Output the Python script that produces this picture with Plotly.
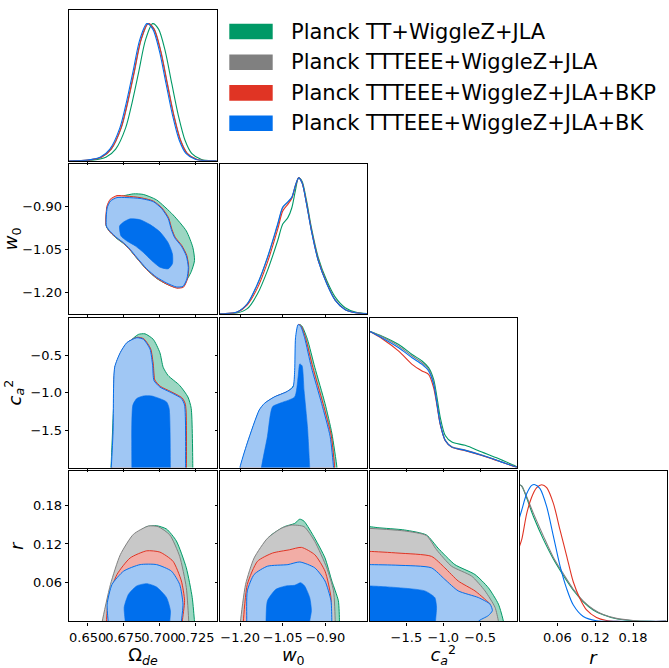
import plotly.graph_objects as go

# ---------------- labels / ticks ----------------
series_names = ["Planck TT+WiggleZ+JLA", "Planck TTTEEE+WiggleZ+JLA",
                "Planck TTTEEE+WiggleZ+JLA+BKP", "Planck TTTEEE+WiggleZ+JLA+BK"]
series_keys = ["green", "gray", "red", "blue"]

om_ticks = [0.650, 0.675, 0.700, 0.725]
om_ticktext = ["0.650", "0.675", "0.700", "0.725"]
w0_ticks = [-1.20, -1.05, -0.90]
w0_ticktext = ["\u22121.20", "\u22121.05", "\u22120.90"]
ca_ticks = [-1.5, -1.0, -0.5]
ca_ticktext = ["\u22121.5", "\u22121.0", "\u22120.5"]
r_ticks = [0.06, 0.12, 0.18]
r_ticktext = ["0.06", "0.12", "0.18"]

# ---------------- 1D marginals ----------------
om_blue_x = [0.636, 0.650, 0.6586, 0.6654, 0.6723, 0.6769, 0.6814, 0.686, 0.691, 0.6951, 0.6997, 0.7043, 0.7088, 0.7134, 0.718, 0.7248, 0.734, 0.740]
om_blue_y = [0.0, 0.005, 0.025, 0.085, 0.24, 0.43, 0.65, 0.88, 1.0, 0.96, 0.80, 0.56, 0.33, 0.15, 0.055, 0.01, 0.0, 0.0]
om_gray_x = [0.637, 0.651, 0.6596, 0.6664, 0.6733, 0.6779, 0.6824, 0.687, 0.692, 0.6961, 0.7007, 0.7053, 0.7098, 0.7144, 0.719, 0.7258, 0.735, 0.740]
om_gray_y = [0.0, 0.005, 0.025, 0.085, 0.24, 0.43, 0.65, 0.88, 1.0, 0.96, 0.80, 0.56, 0.33, 0.15, 0.055, 0.01, 0.0, 0.0]
om_red_x = [0.637, 0.6508, 0.6594, 0.6662, 0.6731, 0.6777, 0.6822, 0.6868, 0.6918, 0.6959, 0.7005, 0.7051, 0.7096, 0.7142, 0.7188, 0.7256, 0.735, 0.740]
om_red_y = [0.0, 0.005, 0.025, 0.085, 0.24, 0.43, 0.65, 0.88, 1.0, 0.96, 0.80, 0.56, 0.33, 0.15, 0.055, 0.01, 0.0, 0.0]
om_green_x = [0.640, 0.654, 0.6626, 0.6694, 0.6763, 0.6809, 0.6854, 0.690, 0.695, 0.6991, 0.7037, 0.7083, 0.7128, 0.7174, 0.722, 0.7288, 0.737, 0.740]
om_green_y = [0.0, 0.005, 0.025, 0.085, 0.24, 0.43, 0.65, 0.88, 1.0, 0.96, 0.80, 0.56, 0.33, 0.15, 0.055, 0.01, 0.0, 0.0]

w0_grid = [-1.28, -1.258, -1.211, -1.175, -1.139, -1.104, -1.068, -1.050, -1.032, -1.018, -1.006, -0.994, -0.982, -0.966, -0.949, -0.925, -0.895, -0.865, -0.830, -0.794, -0.750]
w0_blue_y = [0.0, 0.0, 0.012, 0.073, 0.22, 0.415, 0.66, 0.785, 0.824, 0.858, 0.94, 1.0, 0.963, 0.805, 0.61, 0.39, 0.22, 0.098, 0.029, 0.007, 0.0]
w0_gray_y = [0.0, 0.0, 0.012, 0.072, 0.215, 0.41, 0.65, 0.78, 0.82, 0.855, 0.94, 1.0, 0.965, 0.81, 0.615, 0.395, 0.225, 0.1, 0.03, 0.007, 0.0]
w0_red_y = [0.0, 0.0, 0.01, 0.065, 0.19, 0.378, 0.62, 0.756, 0.805, 0.85, 0.935, 1.0, 0.965, 0.81, 0.615, 0.395, 0.225, 0.1, 0.03, 0.007, 0.0]
w0_green_y = [0.0, 0.0, 0.005, 0.037, 0.146, 0.317, 0.537, 0.66, 0.707, 0.78, 0.90, 1.0, 0.975, 0.83, 0.634, 0.415, 0.244, 0.122, 0.044, 0.012, 0.0]

ca_grid = [-2.0, -1.828, -1.604, -1.423, -1.288, -1.199, -1.131, -1.085, -1.041, -0.973, -0.883, -0.703, -0.477, -0.253, -0.018, 0.0]
ca_blue_y = [1.0, 0.951, 0.879, 0.806, 0.757, 0.709, 0.612, 0.466, 0.32, 0.199, 0.150, 0.126, 0.09, 0.049, 0.005, 0.003]
ca_gray_y = [1.0, 0.96, 0.891, 0.818, 0.769, 0.721, 0.624, 0.475, 0.325, 0.202, 0.152, 0.128, 0.092, 0.05, 0.006, 0.003]
ca_red_y = [1.0, 0.945, 0.854, 0.757, 0.709, 0.684, 0.587, 0.455, 0.315, 0.197, 0.148, 0.124, 0.088, 0.048, 0.005, 0.003]
ca_green_y = [1.0, 0.964, 0.903, 0.83, 0.782, 0.733, 0.648, 0.515, 0.369, 0.235, 0.187, 0.163, 0.114, 0.066, 0.01, 0.006]

r_blue_x = [0.0, 0.0036, 0.0115, 0.0194, 0.0246, 0.0325, 0.0431, 0.0537, 0.0641, 0.0747, 0.0853, 0.1011, 0.122, 0.1536, 0.233]
r_blue_y = [0.76, 0.815, 0.935, 0.995, 1.0, 0.971, 0.839, 0.624, 0.408, 0.24, 0.12, 0.036, 0.005, 0.0, 0.0]
r_red_x = [0.0, 0.0036, 0.0115, 0.0194, 0.0273, 0.0352, 0.0431, 0.0537, 0.0641, 0.0747, 0.0853, 0.0957, 0.1063, 0.122, 0.1378, 0.1536, 0.233]
r_red_y = [0.55, 0.60, 0.79, 0.91, 0.978, 1.0, 0.978, 0.863, 0.671, 0.48, 0.288, 0.168, 0.084, 0.029, 0.007, 0.0, 0.0]
r_wide_x = [0.0, 0.0036, 0.0221, 0.0379, 0.0537, 0.0695, 0.0853, 0.1011, 0.1168, 0.1326, 0.1536, 0.18, 0.2062, 0.233]
r_green_y = [1.0, 0.99, 0.767, 0.60, 0.456, 0.336, 0.228, 0.144, 0.084, 0.048, 0.019, 0.005, 0.0, 0.0]
r_gray_y = [1.0, 0.99, 0.79, 0.624, 0.468, 0.348, 0.235, 0.149, 0.089, 0.05, 0.022, 0.007, 0.0, 0.0]

# ---------------- 2D contours: (Omega_de, w0) ----------------
ow_green_x = [0.663, 0.6635, 0.6658, 0.6703, 0.6748, 0.6817, 0.6885, 0.6977, 0.7091, 0.7183, 0.7228, 0.724, 0.7217, 0.7171, 0.7125, 0.7046, 0.6977, 0.6909, 0.684, 0.6794, 0.6748, 0.6703, 0.6658, 0.663]
ow_green_y = [-0.970, -0.907, -0.883, -0.871, -0.863, -0.856, -0.858, -0.877, -0.929, -0.985, -1.042, -1.088, -1.127, -1.167, -1.183, -1.170, -1.150, -1.120, -1.080, -1.052, -1.029, -1.012, -0.991, -0.970]
ow_gray_x = [0.6629, 0.6634, 0.6657, 0.6703, 0.6772, 0.6863, 0.6954, 0.7013, 0.7058, 0.7081, 0.7104, 0.715, 0.7184, 0.7198, 0.7188, 0.7161, 0.7115, 0.7046, 0.6977, 0.6909, 0.684, 0.6794, 0.6748, 0.6703, 0.6657, 0.6629]
ow_gray_y = [-0.967, -0.903, -0.878, -0.866, -0.866, -0.870, -0.882, -0.906, -0.940, -0.980, -1.008, -1.037, -1.071, -1.112, -1.153, -1.180, -1.182, -1.168, -1.148, -1.118, -1.078, -1.050, -1.027, -1.010, -0.989, -0.967]
ow_red_x = [0.6628, 0.6633, 0.6656, 0.6703, 0.6772, 0.6863, 0.6954, 0.7014, 0.706, 0.7083, 0.7106, 0.7152, 0.7186, 0.72, 0.719, 0.7163, 0.7116, 0.7046, 0.6977, 0.6909, 0.684, 0.6794, 0.6748, 0.6703, 0.6656, 0.6628]
ow_red_y = [-0.966, -0.900, -0.875, -0.862, -0.864, -0.869, -0.881, -0.905, -0.939, -0.979, -1.007, -1.036, -1.070, -1.112, -1.154, -1.181, -1.184, -1.170, -1.149, -1.119, -1.079, -1.051, -1.027, -1.010, -0.989, -0.966]
ow_blue_x = [0.663, 0.6635, 0.6658, 0.6703, 0.6772, 0.6863, 0.6954, 0.7012, 0.7057, 0.708, 0.7103, 0.7149, 0.7183, 0.7197, 0.7187, 0.716, 0.7114, 0.7046, 0.6977, 0.6909, 0.684, 0.6794, 0.6748, 0.6703, 0.6658, 0.663]
ow_blue_y = [-0.968, -0.905, -0.881, -0.869, -0.869, -0.872, -0.883, -0.907, -0.941, -0.981, -1.009, -1.038, -1.072, -1.112, -1.152, -1.178, -1.180, -1.166, -1.146, -1.117, -1.077, -1.049, -1.026, -1.009, -0.988, -0.968]
ow_blue_in_x = [0.6721, 0.6749, 0.6794, 0.6863, 0.6932, 0.700, 0.7057, 0.7087, 0.7087, 0.7057, 0.700, 0.6943, 0.6886, 0.6829, 0.6772, 0.6731, 0.6721]
ow_blue_in_y = [-0.968, -0.954, -0.943, -0.946, -0.963, -0.988, -1.026, -1.065, -1.099, -1.117, -1.111, -1.088, -1.060, -1.037, -1.020, -1.003, -0.968]

# ---------------- 2D contours: (Omega_de, c_a^2) ----------------
oc_green_x = [0.6660, 0.6662, 0.668, 0.6692, 0.6738, 0.6783, 0.6851, 0.6897, 0.6954, 0.700, 0.7023, 0.7057, 0.7137, 0.7194, 0.7217, 0.7228, 0.7228]
oc_green_y = [-2.1, -2.0, -1.167, -0.663, -0.466, -0.334, -0.224, -0.216, -0.289, -0.466, -0.663, -0.772, -0.904, -1.058, -1.211, -2.0, -2.1]
oc_gray_x = [0.6656, 0.6664, 0.6677, 0.6689, 0.6728, 0.6773, 0.6842, 0.6888, 0.6934, 0.6953, 0.6963, 0.7004, 0.7073, 0.7153, 0.7175, 0.7181, 0.7181]
oc_gray_y = [-2.1, -2.0, -1.519, -0.663, -0.466, -0.334, -0.265, -0.286, -0.418, -0.638, -0.835, -0.923, -0.989, -1.076, -1.163, -2.0, -2.1]
oc_red_x = [0.6660, 0.6668, 0.6679, 0.669, 0.6729, 0.6774, 0.6843, 0.6889, 0.6936, 0.6955, 0.6965, 0.7006, 0.7075, 0.7155, 0.7177, 0.7184, 0.7184]
oc_red_y = [-2.1, -2.0, -1.519, -0.663, -0.466, -0.334, -0.262, -0.283, -0.415, -0.635, -0.832, -0.920, -0.986, -1.073, -1.160, -2.0, -2.1]
oc_blue_x = [0.6655, 0.6663, 0.6676, 0.6687, 0.6726, 0.6771, 0.684, 0.6886, 0.6932, 0.695, 0.6959, 0.700, 0.7069, 0.7149, 0.7171, 0.7178, 0.7178]
oc_blue_y = [-2.1, -2.0, -1.519, -0.663, -0.466, -0.334, -0.268, -0.289, -0.421, -0.641, -0.838, -0.926, -0.992, -1.079, -1.167, -2.0, -2.1]
oc_blue_in_x = [0.6806, 0.6806, 0.6813, 0.684, 0.6886, 0.6943, 0.7046, 0.7064, 0.7073, 0.7073]
oc_blue_in_y = [-2.1, -2.0, -1.167, -1.079, -1.045, -1.045, -1.124, -1.211, -2.0, -2.1]

# ---------------- 2D contours: (Omega_de, r) ----------------
or_green_x = [0.6612, 0.6617, 0.6669, 0.6731, 0.6817, 0.6909, 0.6977, 0.7046, 0.7114, 0.7183, 0.7224, 0.724, 0.7245]
or_green_y = [-0.01, 0.0, 0.0524, 0.0983, 0.1315, 0.1468, 0.1483, 0.1431, 0.1247, 0.083, 0.037, 0.0, -0.01]
or_gray_x = [0.6596, 0.6601, 0.6658, 0.6726, 0.6817, 0.6920, 0.6988, 0.7069, 0.7137, 0.7183, 0.720, 0.7202]
or_gray_y = [-0.01, 0.0, 0.0574, 0.1033, 0.135, 0.1477, 0.1468, 0.1339, 0.1008, 0.0524, 0.0, -0.01]
or_red_x = [0.6632, 0.663, 0.6646, 0.6703, 0.6794, 0.6909, 0.700, 0.7091, 0.7149, 0.7171, 0.7155, 0.7152]
or_red_y = [-0.01, 0.0, 0.037, 0.0727, 0.0983, 0.1094, 0.1074, 0.0932, 0.0626, 0.032, 0.0, -0.01]
or_blue_x = [0.6645, 0.6642, 0.6635, 0.6669, 0.6749, 0.6863, 0.6977, 0.708, 0.7137, 0.716, 0.7149, 0.7146]
or_blue_y = [-0.01, 0.0, 0.0268, 0.0574, 0.0779, 0.088, 0.088, 0.0779, 0.0574, 0.0268, 0.0, -0.01]
or_blue_in_x = [0.6761, 0.676, 0.6753, 0.6783, 0.684, 0.6909, 0.6977, 0.7046, 0.7073, 0.7069, 0.7068]
or_blue_in_y = [-0.01, 0.0, 0.0218, 0.0421, 0.055, 0.0585, 0.0534, 0.037, 0.0167, 0.0, -0.01]

# ---------------- 2D contours: (w0, c_a^2) ----------------
wc_green_x = [-1.194, -1.193, -1.169, -1.127, -1.104, -1.068, -1.026, -1.008, -1.002, -0.999, -0.990, -0.982, -0.963, -0.937, -0.901, -0.877, -0.859, -0.858]
wc_green_y = [-2.1, -2.0, -1.671, -1.233, -1.124, -1.049, -0.970, -0.882, -0.575, -0.224, -0.093, -0.114, -0.289, -0.663, -1.145, -1.540, -2.0, -2.1]
wc_gray_x = [-1.201, -1.199, -1.174, -1.132, -1.113, -1.077, -1.035, -1.012, -1.005, -1.002, -0.994, -0.985, -0.970, -0.945, -0.909, -0.880, -0.868, -0.867]
wc_gray_y = [-2.1, -2.0, -1.671, -1.233, -1.140, -1.055, -0.988, -0.918, -0.700, -0.262, -0.090, -0.112, -0.275, -0.663, -1.145, -1.570, -2.0, -2.1]
wc_red_x = [-1.200, -1.198, -1.172, -1.130, -1.111, -1.076, -1.034, -1.011, -1.004, -1.002, -0.994, -0.985, -0.969, -0.944, -0.908, -0.879, -0.867, -0.866]
wc_red_y = [-2.1, -2.0, -1.671, -1.233, -1.140, -1.055, -0.988, -0.920, -0.702, -0.265, -0.091, -0.113, -0.277, -0.663, -1.145, -1.575, -2.0, -2.1]
wc_blue_x = [-1.203, -1.201, -1.175, -1.133, -1.115, -1.080, -1.038, -1.014, -1.008, -1.005, -0.996, -0.987, -0.973, -0.949, -0.913, -0.883, -0.871, -0.870]
wc_blue_y = [-2.1, -2.0, -1.671, -1.233, -1.145, -1.058, -0.992, -0.926, -0.706, -0.268, -0.093, -0.114, -0.268, -0.663, -1.145, -1.584, -2.0, -2.1]
wc_blue_in_x = [-1.126, -1.125, -1.104, -1.086, -1.056, -1.008, -0.996, -0.990, -0.982, -0.975, -0.963, -0.955, -0.955]
wc_blue_in_y = [-2.1, -2.0, -1.584, -1.189, -1.137, -1.058, -0.795, -0.618, -0.641, -0.970, -1.453, -2.0, -2.1]

# ---------------- 2D contours: (w0, r) ----------------
wr_green_x = [-1.196, -1.195, -1.175, -1.139, -1.097, -1.044, -1.008, -0.990, -0.975, -0.937, -0.901, -0.877, -0.854, -0.850, -0.850]
wr_green_y = [-0.01, 0.0, 0.0574, 0.1033, 0.1315, 0.1468, 0.1518, 0.1584, 0.1553, 0.1288, 0.0983, 0.0626, 0.032, 0.0, -0.01]
wr_gray_x = [-1.200, -1.199, -1.181, -1.151, -1.104, -1.056, -1.020, -0.975, -0.937, -0.895, -0.871, -0.865, -0.865]
wr_gray_y = [-0.01, 0.0, 0.0574, 0.0983, 0.1288, 0.1441, 0.1492, 0.1468, 0.1238, 0.083, 0.0473, 0.0, -0.01]
wr_red_x = [-1.190, -1.189, -1.175, -1.139, -1.086, -1.026, -0.984, -0.937, -0.901, -0.880, -0.883, -0.884]
wr_red_y = [-0.01, 0.0, 0.0574, 0.0932, 0.1059, 0.1110, 0.1147, 0.1033, 0.0779, 0.037, 0.0, -0.01]
wr_blue_x = [-1.178, -1.177, -1.175, -1.151, -1.104, -1.032, -0.990, -0.937, -0.901, -0.880, -0.877, -0.877]
wr_blue_y = [-0.01, 0.0, 0.0473, 0.0727, 0.0855, 0.088, 0.0921, 0.083, 0.0626, 0.032, 0.0, -0.01]
wr_blue_in_x = [-1.109, -1.109, -1.104, -1.074, -1.038, -1.008, -0.987, -0.973, -0.955, -0.949, -0.955, -0.955]
wr_blue_in_y = [-0.01, 0.0, 0.032, 0.0498, 0.055, 0.056, 0.060, 0.055, 0.037, 0.0167, 0.0, -0.01]

# ---------------- 2D contours: (c_a^2, r) ----------------
cr_green_x = [-2.1, -2.0, -1.886, -1.523, -1.228, -1.070, -0.842, -0.570, -0.389, -0.252, -0.184, -0.180, -2.1]
cr_green_y = [0.1468, 0.1468, 0.1452, 0.1416, 0.1339, 0.1135, 0.0880, 0.0727, 0.0523, 0.0268, 0.0, -0.01, -0.01]
cr_gray_x = [-2.1, -2.0, -1.523, -1.228, -1.091, -0.887, -0.615, -0.434, -0.298, -0.252, -0.250, -2.1]
cr_gray_y = [0.1441, 0.1441, 0.1401, 0.1330, 0.1110, 0.0855, 0.0702, 0.0473, 0.0218, 0.0, -0.01, -0.01]
cr_red_x = [-2.1, -2.0, -1.614, -1.160, -0.979, -0.797, -0.570, -0.411, -0.366, -0.434, -0.615, -0.640, -2.1]
cr_red_y = [0.1085, 0.1085, 0.1059, 0.1008, 0.0830, 0.0626, 0.0473, 0.032, 0.0268, 0.0115, 0.0, -0.01, -0.01]
cr_blue_x = [-2.1, -2.0, -1.614, -1.160, -0.979, -0.797, -0.525, -0.366, -0.334, -0.389, -0.525, -0.540, -2.1]
cr_blue_y = [0.088, 0.088, 0.087, 0.083, 0.0651, 0.0473, 0.037, 0.0268, 0.0167, 0.009, 0.0, -0.01, -0.01]
cr_blue_in_x = [-2.1, -2.0, -1.614, -1.251, -1.115, -1.091, -1.105, -1.106, -2.1]
cr_blue_in_y = [0.055, 0.055, 0.0523, 0.0473, 0.037, 0.0218, 0.0, -0.01, -0.01]

# ---------------- styling ----------------
line_col = {"green": "#009966", "gray": "#808080", "red": "#E03424", "blue": "#006FED"}
fill_col = {"green": "#9CD6C2", "gray": "#C8C8C8", "red": "#F2ADA6", "blue": "#A0C7F4"}
blue_inner_fill = "#006FED"
FONT = "DejaVu Sans"
W, H = 669, 668

col_px = [(69.3, 216.5), (219.5, 367.0), (369.5, 517.0), (519.5, 666.5)]
row_px = [(10.0, 162.5), (166.0, 317.0), (321.0, 472.5), (476.0, 628.0)]

par_range = [[0.6373, 0.7392], [-1.273, -0.753], [-2.0, 0.0], [0.0, 0.233]]
par_ticks = [om_ticks, w0_ticks, ca_ticks, r_ticks]
par_ticktext = [om_ticktext, w0_ticktext, ca_ticktext, r_ticktext]
par_title = ["\u03a9<sub><i>de</i></sub>", "<i>w</i><sub>0</sub>",
             "<i>c</i><sub><i>a</i></sub><sup>2</sup>", "<i>r</i>"]

diag_data = {
    0: {"green": (om_green_x, om_green_y), "gray": (om_gray_x, om_gray_y),
        "red": (om_red_x, om_red_y), "blue": (om_blue_x, om_blue_y)},
    1: {"green": (w0_grid, w0_green_y), "gray": (w0_grid, w0_gray_y),
        "red": (w0_grid, w0_red_y), "blue": (w0_grid, w0_blue_y)},
    2: {"green": (ca_grid, ca_green_y), "gray": (ca_grid, ca_gray_y),
        "red": (ca_grid, ca_red_y), "blue": (ca_grid, ca_blue_y)},
    3: {"green": (r_wide_x, r_green_y), "gray": (r_wide_x, r_gray_y),
        "red": (r_red_x, r_red_y), "blue": (r_blue_x, r_blue_y)},
}

pair_data = {
    (1, 0): ([(ow_green_x, ow_green_y), (ow_gray_x, ow_gray_y), (ow_red_x, ow_red_y), (ow_blue_x, ow_blue_y)], (ow_blue_in_x, ow_blue_in_y)),
    (2, 0): ([(oc_green_x, oc_green_y), (oc_gray_x, oc_gray_y), (oc_red_x, oc_red_y), (oc_blue_x, oc_blue_y)], (oc_blue_in_x, oc_blue_in_y)),
    (3, 0): ([(or_green_x, or_green_y), (or_gray_x, or_gray_y), (or_red_x, or_red_y), (or_blue_x, or_blue_y)], (or_blue_in_x, or_blue_in_y)),
    (2, 1): ([(wc_green_x, wc_green_y), (wc_gray_x, wc_gray_y), (wc_red_x, wc_red_y), (wc_blue_x, wc_blue_y)], (wc_blue_in_x, wc_blue_in_y)),
    (3, 1): ([(wr_green_x, wr_green_y), (wr_gray_x, wr_gray_y), (wr_red_x, wr_red_y), (wr_blue_x, wr_blue_y)], (wr_blue_in_x, wr_blue_in_y)),
    (3, 2): ([(cr_green_x, cr_green_y), (cr_gray_x, cr_gray_y), (cr_red_x, cr_red_y), (cr_blue_x, cr_blue_y)], (cr_blue_in_x, cr_blue_in_y)),
}

fig = go.Figure()
layout = {}

def axis_base():
    return dict(showline=True, linecolor="black", linewidth=1.4, mirror=True,
                ticks="outside", ticklen=3.5, tickwidth=1, tickcolor="black",
                showgrid=False, zeroline=False, tickangle=0,
                tickfont=dict(family=FONT, size=13, color="black"))

n = 0
for row in range(4):
    for col in range(row + 1):
        n += 1
        xa = "x" if n == 1 else f"x{n}"
        ya = "y" if n == 1 else f"y{n}"
        xd = [col_px[col][0] / W, col_px[col][1] / W]
        yd = [1 - row_px[row][1] / H, 1 - row_px[row][0] / H]
        xax = axis_base()
        xax.update(domain=xd, anchor=ya, range=par_range[col], tickmode="array",
                   tickvals=par_ticks[col], ticktext=par_ticktext[col],
                   showticklabels=(row == 3))
        if row == 3:
            xax["title"] = dict(text=par_title[col], font=dict(family=FONT, size=18, color="black"), standoff=11)
        yax = axis_base()
        yax.update(domain=yd, anchor=xa)
        if row == col:
            yax.update(range=[0, 1.1], ticks="", showticklabels=False)
            for key in series_keys:
                xs, ys = diag_data[row][key]
                fig.add_trace(go.Scatter(x=xs, y=ys, mode="lines", xaxis=xa, yaxis=ya,
                                         line=dict(color=line_col[key], width=1.1, shape="spline", smoothing=0.8),
                                         showlegend=False, hoverinfo="skip"))
        else:
            yax.update(range=par_range[row], tickmode="array", tickvals=par_ticks[row],
                       ticktext=par_ticktext[row], showticklabels=(col == 0))
            if col == 0:
                yax["title"] = dict(text=par_title[row], font=dict(family=FONT, size=18, color="black"), standoff=4)
            outers, inner = pair_data[(row, col)]
            for key, (xs, ys) in zip(series_keys, outers):
                fig.add_trace(go.Scatter(x=xs, y=ys, mode="lines", fill="toself", xaxis=xa, yaxis=ya,
                                         fillcolor=fill_col[key],
                                         line=dict(color=line_col[key], width=1.0, shape="spline", smoothing=0.6),
                                         showlegend=False, hoverinfo="skip"))
            fig.add_trace(go.Scatter(x=inner[0], y=inner[1], mode="lines", fill="toself", xaxis=xa, yaxis=ya,
                                     fillcolor=blue_inner_fill,
                                     line=dict(color=blue_inner_fill, width=0.6, shape="spline", smoothing=0.6),
                                     showlegend=False, hoverinfo="skip"))
        layout["xaxis" if n == 1 else f"xaxis{n}"] = xax
        layout["yaxis" if n == 1 else f"yaxis{n}"] = yax

# legend drawn as patches + text
shapes = []
annotations = []
leg_tops = [24.0, 55.0, 86.0, 116.7]
for i, (name, key) in enumerate(zip(series_names, series_keys)):
    top = leg_tops[i]
    shapes.append(dict(type="rect", xref="paper", yref="paper",
                       x0=229.3 / W, x1=272.7 / W, y0=1 - (top + 15.7) / H, y1=1 - top / H,
                       fillcolor=line_col[key], line=dict(width=0)))
    annotations.append(dict(xref="paper", yref="paper", x=289.0 / W, y=1 - (top + 8.0) / H,
                            xanchor="left", yanchor="middle", showarrow=False, text=name,
                            font=dict(family=FONT, size=21, color="black")))

fig.update_layout(**layout)
fig.update_layout(width=W, height=H, margin=dict(l=0, r=0, t=0, b=0),
                  paper_bgcolor="white", plot_bgcolor="white",
                  shapes=shapes, annotations=annotations, showlegend=False,
                  font=dict(family=FONT, color="black"))

fig.write_html("out.html", config={"displayModeBar": False},
               post_script="document.body.style.margin='0px';document.body.style.padding='0px';document.body.style.overflow='hidden';")
